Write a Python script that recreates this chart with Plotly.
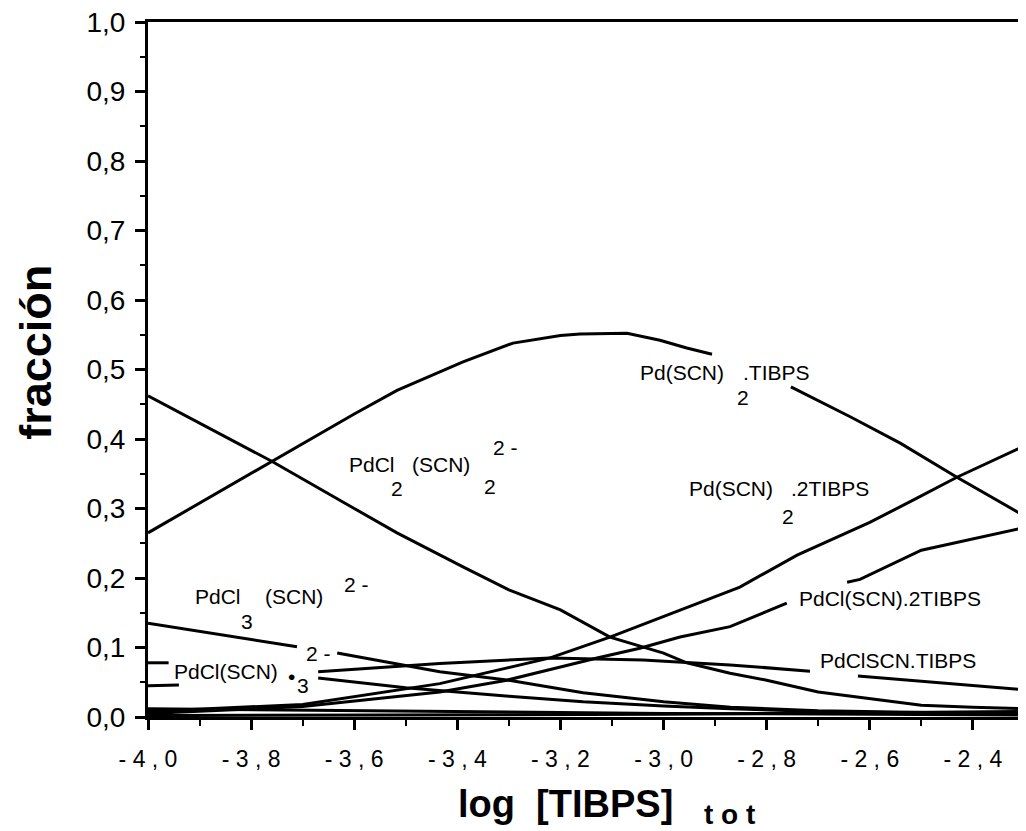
import plotly.graph_objects as go

# ---------------- data ----------------
# PdCl2(SCN)2 2- : decreasing
a_x = [-4.0, -3.9, -3.76, -3.6, -3.517, -3.389, -3.3, -3.2, -3.104, -3.0, -2.955, -2.871, -2.8, -2.7, -2.6, -2.5, -2.4, -2.297]
a_y = [0.462, 0.423, 0.368, 0.300, 0.265, 0.216, 0.183, 0.154, 0.115, 0.092, 0.078, 0.063, 0.053, 0.036, 0.026, 0.017, 0.014, 0.012]

# Pd(SCN)2.TIBPS : bell shaped (gap where the label sits)
b_x = [-4.0, -3.9, -3.76, -3.6, -3.517, -3.389, -3.292, -3.2, -3.162, -3.071, -3.007, -2.955, -2.906, None, -2.753, -2.638, -2.541, -2.431, -2.297]
b_y = [0.265, 0.308, 0.368, 0.436, 0.470, 0.511, 0.538, 0.549, 0.551, 0.552, 0.542, 0.531, 0.522, None, 0.475, 0.432, 0.394, 0.345, 0.288]

# Pd(SCN)2.2TIBPS : increasing
c_x = [-4.0, -3.7, -3.434, -3.375, -3.22, -3.104, -3.0, -2.852, -2.741, -2.6, -2.516, -2.431, -2.297]
c_y = [0.008, 0.018, 0.048, 0.058, 0.085, 0.115, 0.145, 0.187, 0.233, 0.280, 0.312, 0.345, 0.391]

# PdCl(SCN).2TIBPS : increasing (gap at label)
d_x = [-4.0, -3.7, -3.434, -3.304, -3.2, -3.129, -3.046, -2.968, -2.871, -2.761, None, -2.644, -2.619, -2.5, -2.297]
d_y = [0.005, 0.015, 0.036, 0.053, 0.072, 0.085, 0.099, 0.115, 0.130, 0.164, None, 0.194, 0.198, 0.240, 0.273]

# PdClSCN.TIBPS : rise then fall (gaps at labels)
e_x = [-4.0, -3.94, None, -3.67, -3.434, -3.22, -3.04, -2.871, -2.716, None, -2.623, -2.528, -2.373, -2.297]
e_y = [0.045, 0.046, None, 0.065, 0.077, 0.085, 0.082, 0.075, 0.066, None, 0.059, 0.053, 0.043, 0.039]

# PdCl3(SCN) 2- : decreasing (gap at label)
f_x = [-4.0, -3.8, -3.711, None, -3.633, -3.531, -3.434, -3.3, -3.156, -3.0, -2.87, -2.7, -2.5, -2.297]
f_y = [0.135, 0.112, 0.101, None, 0.092, 0.078, 0.065, 0.053, 0.035, 0.022, 0.014, 0.009, 0.006, 0.004]

# PdCl(SCN)3 2- : decreasing (gap at label)
g_x = [-4.0, -3.96, None, -3.67, -3.5, -3.3, -3.156, -3.0, -2.87, -2.7, -2.5, -2.297]
g_y = [0.078, 0.078, None, 0.056, 0.042, 0.030, 0.022, 0.016, 0.012, 0.008, 0.005, 0.004]

# minor species close to zero
h_x = [-4.0, -3.7, -3.4, -3.0, -2.6, -2.297]
h_y = [0.012, 0.010, 0.007, 0.005, 0.004, 0.003]
i_x = [-4.0, -3.5, -3.0, -2.6, -2.297]
i_y = [0.002, 0.003, 0.004, 0.006, 0.008]

x_tickvals = [-4.0, -3.8, -3.6, -3.4, -3.2, -3.0, -2.8, -2.6, -2.4]
x_ticktext = ["- 4 , 0", "- 3 , 8", "- 3 , 6", "- 3 , 4", "- 3 , 2", "- 3 , 0", "- 2 , 8", "- 2 , 6", "- 2 , 4"]
x_minor = [-3.9, -3.7, -3.5, -3.3, -3.1, -2.9, -2.7, -2.5, -2.3]
y_tickvals = [0.0, 0.1, 0.2, 0.3, 0.4, 0.5, 0.6, 0.7, 0.8, 0.9, 1.0]
y_ticktext = ["0,0", "0,1", "0,2", "0,3", "0,4", "0,5", "0,6", "0,7", "0,8", "0,9", "1,0"]
y_minor = [0.05, 0.15, 0.25, 0.35, 0.45, 0.55, 0.65, 0.75, 0.85, 0.95]

# label pieces: (text, x, y, xanchor)
labels = [
    ("PdCl", -3.614, 0.363, "left"), ("2", -3.517, 0.329, "center"), ("(SCN)", -3.492, 0.363, "left"),
    ("2", -3.337, 0.331, "center"), ("2 -", -3.306, 0.388, "center"),
    ("PdCl", -3.913, 0.173, "left"), ("3", -3.808, 0.137, "center"), ("(SCN)", -3.777, 0.173, "left"),
    ("2 -", -3.595, 0.190, "center"),
    ("PdCl(SCN)", -3.953, 0.065, "left"), ("\u2022", -3.721, 0.059, "center"), ("3", -3.699, 0.045, "center"),
    ("2 -", -3.670, 0.092, "center"),
    ("Pd(SCN)", -3.050, 0.496, "left"), (".TIBPS", -2.850, 0.496, "left"), ("2", -2.846, 0.460, "center"),
    ("Pd(SCN)", -2.955, 0.329, "left"), (".2TIBPS", -2.757, 0.329, "left"), ("2", -2.759, 0.288, "center"),
    ("PdCl(SCN).2TIBPS", -2.741, 0.171, "left"),
    ("PdClSCN.TIBPS", -2.701, 0.082, "left"),
]

FONT = "Liberation Sans, Arial, Helvetica, sans-serif"

fig = go.Figure()
for xs, ys in [(a_x, a_y), (b_x, b_y), (c_x, c_y), (d_x, d_y), (e_x, e_y),
               (f_x, f_y), (g_x, g_y), (h_x, h_y), (i_x, i_y)]:
    fig.add_trace(go.Scatter(x=xs, y=ys, mode="lines", connectgaps=False,
                             line=dict(color="black", width=3), showlegend=False,
                             hoverinfo="skip"))

for txt, lx, ly, anc in labels:
    fig.add_annotation(x=lx, y=ly, xref="x", yref="y", text=txt, showarrow=False,
                       xanchor=anc, yanchor="middle", font=dict(family=FONT, size=21, color="black"))

# axis titles as annotations (paper coordinates)
fig.add_annotation(x=-0.128, y=0.525, xref="paper", yref="paper", text="<b>fracción</b>",
                   textangle=-90, showarrow=False, xanchor="center", yanchor="middle",
                   font=dict(family=FONT, size=45, color="black"))
fig.add_annotation(x=0.475, y=-0.125, xref="paper", yref="paper",
                   text="<b>log\u00a0\u00a0[TIBPS]</b>", showarrow=False,
                   xanchor="center", yanchor="middle", font=dict(family=FONT, size=38, color="black"))
fig.add_annotation(x=0.662, y=-0.141, xref="paper", yref="paper",
                   text="<b>t\u00a0o\u00a0t</b>", showarrow=False,
                   xanchor="center", yanchor="middle", font=dict(family=FONT, size=28, color="black"))

# the page body adds an 8 px offset, so the figure is 8 px smaller than the window
fig.update_layout(
    width=1018, height=823,
    margin=dict(l=140, r=0, t=14, b=114),
    paper_bgcolor="white", plot_bgcolor="white",
    font=dict(family=FONT, color="black"),
    xaxis=dict(range=[-4.0, -2.297], showline=True, linewidth=3, linecolor="black", mirror=True,
               ticks="outside", ticklen=10, tickwidth=2.5, tickcolor="black",
               tickvals=x_tickvals, ticktext=x_ticktext, tickfont=dict(family=FONT, size=23),
               ticklabelstandoff=9, ticklabeloverflow="allow",
               minor=dict(tickvals=x_minor, ticks="outside", ticklen=6, tickwidth=2, tickcolor="black"),
               showgrid=False, zeroline=False),
    yaxis=dict(range=[0, 1.0], showline=True, linewidth=3, linecolor="black",
               ticks="outside", ticklen=10, tickwidth=2.5, tickcolor="black",
               tickvals=y_tickvals, ticktext=y_ticktext, tickfont=dict(family=FONT, size=28),
               ticklabelstandoff=4, ticklabeloverflow="allow",
               minor=dict(tickvals=y_minor, ticks="outside", ticklen=5, tickwidth=2, tickcolor="black"),
               showgrid=False, zeroline=False),
)

fig.write_html("out.html")
